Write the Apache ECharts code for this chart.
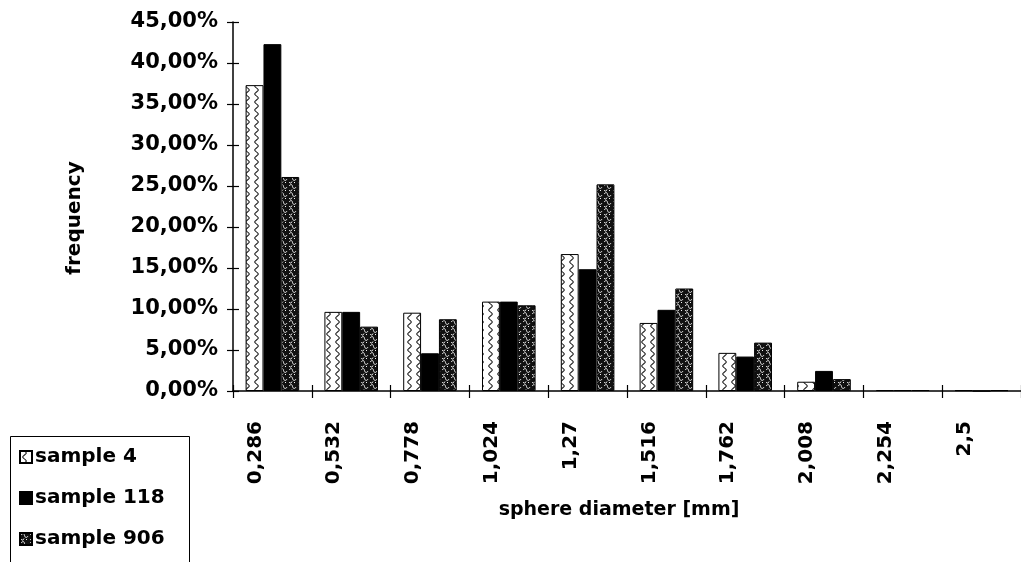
<!DOCTYPE html>
<html>
<head>
<meta charset="utf-8">
<title>Sphere diameter frequency</title>
<script src="https://cdn.jsdelivr.net/npm/echarts@6/dist/echarts.min.js"></script>
<style>
  html, body { margin: 0; padding: 0; background: #fff; }
  #chart { width: 1021px; height: 562px; }
</style>
</head>
<body>
<div id="chart"></div>
<script>
// Size classes (sphere diameter, mm)
const categories = ['0,286', '0,532', '0,778', '1,024', '1,27', '1,516', '1,762', '2,008', '2,254', '2,5'];

// Frequencies in percent
const sample4   = [37.3, 9.65, 9.55, 10.9, 16.7, 8.3, 4.65, 1.13, 0.12, 0.1];
const sample118 = [42.3, 9.65, 4.6, 10.9, 14.85, 9.9, 4.2, 2.45, 0.12, 0.0];
const sample906 = [26.1, 7.85, 8.75, 10.45, 25.2, 12.5, 5.9, 1.45, 0.12, 0.1];

const seriesNames = ['sample 4', 'sample 118', 'sample 906'];
const yTicks = { min: 0, max: 45, step: 5 };

const FONT = 'DejaVu Sans';

// Hatch fill: white with a wavy vertical line
function wavePattern() {
  const c = document.createElement('canvas');
  c.width = 9; c.height = 8;
  const g = c.getContext('2d');
  g.fillStyle = '#fff';
  g.fillRect(0, 0, 9, 8);
  g.strokeStyle = '#222';
  g.lineWidth = 1.1;
  g.beginPath();
  g.moveTo(4.5, 0);
  g.bezierCurveTo(7, 2, 7, 2, 4.5, 4);
  g.bezierCurveTo(2, 6, 2, 6, 4.5, 8);
  g.stroke();
  return c;
}

// Hatch fill: black with light squiggles
function squigglePattern() {
  const c = document.createElement('canvas');
  c.width = 9; c.height = 8;
  const g = c.getContext('2d');
  g.fillStyle = '#111';
  g.fillRect(0, 0, 9, 8);
  g.strokeStyle = '#f2f2f2';
  g.lineWidth = 1;
  g.beginPath();
  g.moveTo(1, 2);
  g.bezierCurveTo(3, 0, 4, 0, 4.5, 2.5);
  g.bezierCurveTo(5, 5, 7, 5, 8, 3);
  g.moveTo(1, 6);
  g.bezierCurveTo(2, 7.5, 3.5, 7.5, 4, 5.5);
  g.stroke();
  g.fillStyle = '#f2f2f2';
  g.fillRect(6, 6, 1, 1);
  return c;
}

const fills = [
  { image: wavePattern(), repeat: 'repeat' },
  '#000',
  { image: squigglePattern(), repeat: 'repeat' }
];
const values = [sample4, sample118, sample906];

const chart = echarts.init(document.getElementById('chart'), null, { renderer: 'canvas' });

chart.setOption({
  animation: false,
  backgroundColor: '#fff',
  textStyle: { fontFamily: FONT, color: '#000' },
  grid: { left: 233, right: 0, top: 22, bottom: 171, containLabel: false },
  xAxis: [
    {
      type: 'category',
      data: categories,
      position: 'bottom',
      axisLine: { lineStyle: { color: '#000', width: 1.5 } },
      axisTick: { show: true, length: 7, lineStyle: { color: '#000', width: 1.2 } },
      axisLabel: {
        rotate: 90,
        margin: 30,
        lineHeight: 34,
        // trailing blank line moves each vertical label off the category centre
        formatter: v => v + '\n ',
        fontFamily: FONT,
        fontWeight: 'bold',
        fontSize: 20,
        color: '#000'
      },
      splitLine: { show: false }
    },
    {
      type: 'category',
      data: categories,
      position: 'bottom',
      axisLine: { show: false },
      axisTick: { show: true, inside: true, length: 6, lineStyle: { color: '#000', width: 1.2 } },
      axisLabel: { show: false },
      splitLine: { show: false }
    }
  ],
  yAxis: [
    {
      type: 'value',
      min: yTicks.min,
      max: yTicks.max,
      interval: yTicks.step,
      axisLine: { show: true, lineStyle: { color: '#000', width: 1.5 } },
      axisTick: { show: true, length: 6, lineStyle: { color: '#000', width: 1.2 } },
      axisLabel: {
        margin: 15,
        fontFamily: FONT,
        fontWeight: 'bold',
        fontSize: 21,
        color: '#000',
        formatter: v => v.toFixed(2).replace('.', ',') + '%'
      },
      splitLine: { show: false }
    },
    {
      type: 'value',
      min: yTicks.min,
      max: yTicks.max,
      interval: yTicks.step,
      position: 'left',
      axisLine: { show: false },
      axisTick: { show: true, inside: true, length: 6, lineStyle: { color: '#000', width: 1.2 } },
      axisLabel: { show: false },
      splitLine: { show: false }
    }
  ],
  legend: {
    orient: 'vertical',
    left: 14,
    top: 442,
    data: seriesNames,
    icon: 'rect',
    itemWidth: 12,
    itemHeight: 12,
    itemGap: 21,
    textStyle: { fontFamily: FONT, fontWeight: 'bold', fontSize: 20, color: '#000', padding: [0, 0, 0, -2] },
    selectedMode: false
  },
  series: seriesNames.map((name, i) => ({
    name,
    type: 'bar',
    xAxisIndex: 0,
    yAxisIndex: 0,
    data: values[i],
    barGap: '0%',
    barCategoryGap: '32%',
    itemStyle: { color: fills[i], borderColor: '#000', borderWidth: 1 }
  })),
  graphic: [
    {
      type: 'rect',
      left: 8,
      top: 434,
      shape: { width: 179, height: 140 },
      style: { fill: 'none', stroke: '#000', lineWidth: 1 },
      z: 0
    },
    {
      type: 'text',
      x: 75,
      y: 218,
      rotation: Math.PI / 2,
      style: {
        text: 'frequency',
        fontFamily: FONT,
        fontWeight: 'bold',
        fontSize: 20,
        fill: '#000',
        align: 'center',
        verticalAlign: 'middle'
      }
    },
    {
      type: 'text',
      x: 619,
      y: 510,
      style: {
        text: 'sphere diameter [mm]',
        fontFamily: FONT,
        fontWeight: 'bold',
        fontSize: 19,
        fill: '#000',
        align: 'center',
        verticalAlign: 'middle'
      }
    }
  ]
});
</script>
</body>
</html>
